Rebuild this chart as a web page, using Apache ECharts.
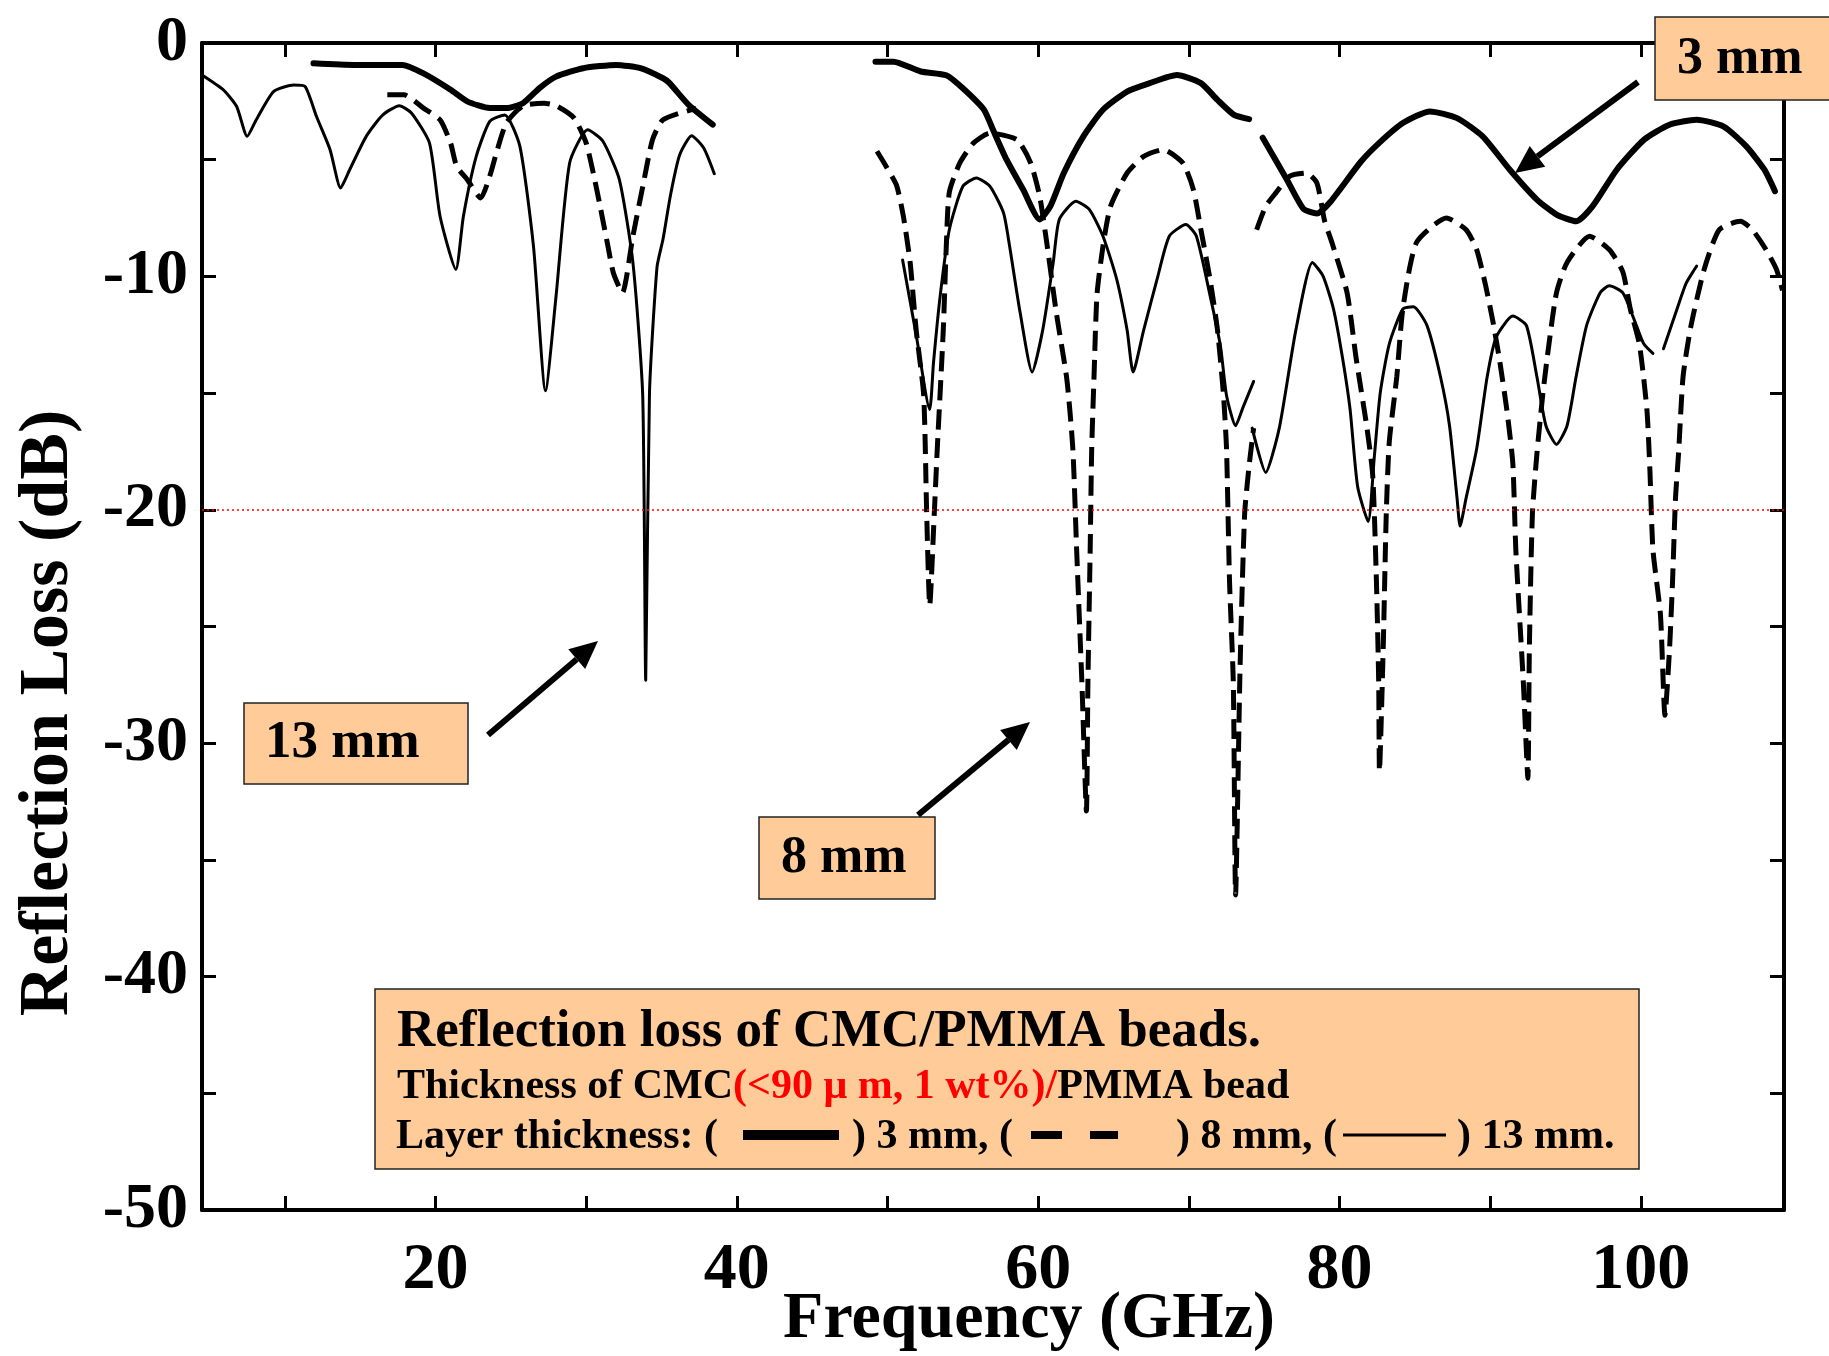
<!DOCTYPE html>
<html>
<head>
<meta charset="utf-8">
<script src="https://cdn.jsdelivr.net/npm/echarts@6/dist/echarts.min.js"></script>
<style>
html,body{margin:0;padding:0;background:#fff;}
#chart{width:1829px;height:1356px;}
</style>
</head>
<body>
<div id="chart"></div>
<script>
// ---------------- DATA ----------------
// Axis ticks / labels
const xTickValues = [10, 20, 30, 40, 50, 60, 70, 80, 90, 100];
const xLabelValues = [20, 40, 60, 80, 100];
const yMin = -50, yMax = 0;

// 3 mm layer (thick solid) - three measured segments
const freq3mmA = [11.9, 14.6, 17.8, 19.2, 21.0, 22.1, 23.6, 24.7, 25.8, 26.9, 28.0, 29.8, 32.0, 33.6, 35.1, 35.5, 36.8, 38.4];
const loss3mmA = [-0.87, -0.94, -0.94, -1.3, -2.0, -2.5, -2.79, -2.79, -2.58, -1.93, -1.44, -1.08, -0.94, -1.08, -1.51, -1.7, -2.65, -3.5];
const freq3mmB = [49.2, 50.4, 52.2, 53.9, 55.0, 56.4, 57.0, 57.9, 59.0, 60.1, 60.8, 61.7, 63.0, 64.3, 65.9, 67.4, 69.2, 70.8, 71.9, 73.0, 74.0];
const loss3mmB = [-0.8, -0.8, -1.22, -1.38, -1.94, -2.86, -3.72, -5.0, -6.28, -7.56, -7.0, -5.57, -4.0, -2.86, -2.08, -1.72, -1.37, -1.72, -2.44, -3.08, -3.26];
const freq3mmC = [74.9, 76.5, 77.6, 78.5, 79.4, 81.4, 82.6, 84.2, 86.0, 87.8, 89.5, 91.3, 93.1, 94.4, 95.7, 96.8, 98.4, 100.2, 101.9, 103.7, 105.5, 107.0, 108.2, 108.9];
const loss3mmC = [-4.06, -5.85, -7.1, -7.3, -6.8, -5.1, -4.3, -3.43, -2.93, -3.22, -4.0, -5.43, -6.71, -7.35, -7.64, -6.99, -5.43, -4.15, -3.5, -3.29, -3.58, -4.43, -5.43, -6.35];

// 8 mm layer (dashed)
const freq8mmA = [16.8, 17.9, 19.2, 20.3, 21.0, 21.4, 22.1, 23.0, 23.6, 24.1, 24.7, 25.8, 27.2, 28.05, 29.2, 30.0, 30.7, 31.4, 31.8, 32.4, 33.1, 33.8, 34.4, 35.1, 37.3];
const loss8mmA = [-2.22, -2.22, -2.79, -3.29, -4.29, -5.28, -5.85, -6.64, -5.7, -4.57, -3.43, -2.7, -2.58, -2.7, -3.22, -4.29, -6.28, -8.56, -9.84, -10.7, -8.28, -6.0, -4.15, -3.29, -2.8];
const freq8mmB = [49.3, 49.9, 50.6, 51.05, 51.5, 51.9, 52.4, 52.6, 52.8, 53.1, 53.3, 53.7, 53.9, 54.1, 54.8, 55.7, 56.8, 58.6, 59.5, 60.1, 60.6, 61.2, 61.9, 62.3, 62.55, 62.9, 63.2, 63.3, 63.45, 63.55, 63.7, 63.9, 64.3, 64.8, 65.9, 67.0, 68.3, 69.6, 70.3, 70.8, 71.4, 71.9, 72.3, 72.5, 72.7, 72.95, 73.1, 73.4, 73.7, 74.0, 74.3];
const loss8mmB = [-4.64, -5.28, -6.1, -7.42, -9.4, -12.3, -15.1, -20.2, -24.1, -20.2, -17.4, -12.3, -8.7, -6.4, -5.14, -4.29, -3.86, -4.15, -5.14, -6.57, -8.7, -11.55, -14.4, -17.4, -21.7, -27.4, -32.9, -27.4, -21.7, -17.4, -14.4, -10.8, -8.7, -7.0, -5.57, -4.86, -4.57, -5.14, -6.28, -8.0, -10.1, -12.3, -15.1, -17.4, -23.1, -27.4, -36.5, -26.7, -20.2, -18.1, -16.5];
const freq8mmC = [74.5, 75.1, 75.8, 76.7, 77.8, 78.5, 79.0, 79.5, 80.5, 81.1, 81.8, 82.2, 82.45, 82.6, 82.65, 82.9, 83.1, 83.3, 83.8, 84.2, 85.1, 87.1, 88.4, 89.1, 89.7, 90.2, 90.6, 91.1, 91.5, 91.7, 92.2, 92.5, 92.6, 92.8, 93.1, 93.5, 93.9, 94.4, 95.1, 96.6, 97.9, 98.8, 99.3, 99.9, 100.4, 100.6, 100.8, 101.3, 101.6, 101.9, 102.1, 102.3, 102.5, 102.8, 103.3, 104.2, 105.2, 106.6, 107.4, 108.3, 109.0, 109.4];
const loss8mmC = [-8.0, -7.0, -6.4, -5.7, -5.57, -6.0, -7.6, -8.56, -10.7, -13.5, -16.4, -18.5, -23.1, -27.4, -31.2, -25.9, -20.2, -17.1, -14.3, -11.4, -8.56, -7.5, -8.0, -8.85, -10.4, -12.0, -13.5, -15.7, -18.0, -21.7, -27.4, -31.5, -25.9, -20.2, -17.6, -15.0, -12.9, -10.7, -9.4, -8.28, -8.85, -9.8, -11.4, -12.9, -15.7, -18.3, -21.7, -24.5, -28.8, -26.0, -23.1, -19.5, -17.6, -14.3, -12.2, -9.7, -8.0, -7.64, -8.0, -8.85, -9.7, -10.6];

// 13 mm layer (thin solid)
const freq13mmA = [4.5, 5.9, 6.8, 7.5, 8.1, 9.25, 10.6, 11.35, 12.1, 13.0, 13.7, 14.3, 15.4, 16.5, 17.6, 18.4, 19.6, 20.3, 21.35, 21.85, 22.7, 23.6, 24.6, 25.6, 26.5, 27.3, 28.0, 28.9, 30.1, 31.1, 32.2, 33.1, 33.75, 33.95, 34.2, 34.7, 35.1, 35.6, 36.2, 37.0, 37.8, 38.5];
const loss13mmA = [-1.37, -2.0, -2.72, -4.0, -3.29, -2.08, -1.8, -1.87, -3.15, -4.57, -6.21, -5.43, -4.0, -3.08, -2.69, -3.0, -4.29, -7.42, -9.7, -7.42, -4.86, -3.36, -3.08, -4.43, -8.7, -14.9, -10.84, -5.14, -3.72, -4.2, -5.85, -9.4, -15.1, -27.3, -15.0, -9.6, -8.4, -6.5, -4.8, -3.97, -4.5, -5.6];
const freq13mmB = [51.0, 51.9, 52.8, 53.05, 53.5, 54.1, 55.0, 55.9, 56.8, 57.7, 58.1, 58.8, 59.6, 60.3, 61.0, 61.4, 62.5, 63.4, 64.3, 65.2, 65.9, 66.3, 67.0, 67.9, 68.7, 69.8, 70.5, 71.4, 72.1, 72.5, 73.1, 73.6, 74.3];
const loss13mmB = [-9.3, -12.5, -15.7, -13.7, -10.8, -8.0, -6.14, -5.78, -6.14, -7.28, -8.7, -11.55, -14.1, -12.3, -9.4, -7.56, -6.78, -7.14, -8.28, -10.1, -12.3, -14.1, -12.3, -10.1, -8.28, -7.78, -8.28, -10.8, -13.0, -15.1, -16.4, -15.6, -14.5];
const freq13mmC = [74.2, 75.1, 76.0, 77.1, 78.2, 78.9, 79.6, 80.2, 80.7, 81.2, 81.9, 82.3, 82.7, 83.3, 84.2, 84.9, 85.8, 86.7, 87.3, 87.8, 88.0, 88.4, 89.1, 89.8, 90.4, 91.5, 92.4, 93.1, 93.7, 94.4, 95.1, 95.7, 96.4, 97.3, 97.9, 98.8, 99.7, 100.2, 100.8];
const loss13mmC = [-16.5, -18.4, -16.5, -12.3, -9.4, -9.98, -11.4, -13.5, -15.7, -19.0, -20.5, -17.8, -15.0, -12.9, -11.4, -11.3, -12.1, -14.3, -16.4, -19.5, -20.7, -19.5, -17.4, -14.3, -12.6, -11.7, -12.1, -14.3, -16.4, -17.2, -16.4, -14.3, -12.1, -10.7, -10.4, -10.7, -12.1, -12.9, -13.3];
const freq13mmD = [101.5, 102.4, 103.0, 103.7];
const loss13mmD = [-13.1, -11.4, -10.3, -9.56];

const thresholdLoss = -20;

// ---------------- CHART ----------------
const SERIF = "'Liberation Serif','Times New Roman',serif";
const zip = (xs, ys) => xs.map((x, i) => [x, ys[i]]);

function lineSeries(name, xs, ys, style, extra) {
  return Object.assign({
    name: name, type: 'line', data: zip(xs, ys),
    showSymbol: false, symbol: 'none', smooth: 0.2,
    lineStyle: style, silent: true, z: 3
  }, extra || {});
}
const st3 = { color: '#000', width: 6, cap: 'round', join: 'round' };
const st8 = { color: '#000', width: 5, type: [20, 9], cap: 'butt', join: 'round' };
const st13 = { color: '#000', width: 3, cap: 'round', join: 'round' };

const series = [
  lineSeries('3 mm', freq3mmA, loss3mmA, st3, {
    markLine: {
      silent: true, symbol: ['none', 'none'], label: { show: false },
      lineStyle: { color: '#ff0000', type: [2, 3], width: 1.5 },
      data: [{ yAxis: thresholdLoss }]
    }
  }),
  lineSeries('3 mm', freq3mmB, loss3mmB, st3),
  lineSeries('3 mm', freq3mmC, loss3mmC, st3),
  lineSeries('8 mm', freq8mmA, loss8mmA, st8),
  lineSeries('8 mm', freq8mmB, loss8mmB, st8),
  lineSeries('8 mm', freq8mmC, loss8mmC, st8),
  lineSeries('13 mm', freq13mmA, loss13mmA, st13),
  lineSeries('13 mm', freq13mmB, loss13mmB, st13),
  lineSeries('13 mm', freq13mmC, loss13mmC, st13),
  lineSeries('13 mm', freq13mmD, loss13mmD, st13)
];

// annotation helpers (pixel positions of boxes/arrows)
function arrow(x1, y1, x2, y2) {
  const a = Math.atan2(y2 - y1, x2 - x1);
  const L = 28, H = 13;
  const bx = x2 - L * Math.cos(a), by = y2 - L * Math.sin(a);
  const px = -Math.sin(a), py = Math.cos(a);
  return [
    { type: 'line', shape: { x1: x1, y1: y1, x2: bx, y2: by }, style: { stroke: '#000', lineWidth: 6 }, z: 10 },
    { type: 'polygon', shape: { points: [[x2, y2], [bx + H * px, by + H * py], [bx - H * px, by - H * py]] }, style: { fill: '#000' }, z: 10 }
  ];
}
function box(x, y, w, h) {
  return { type: 'rect', shape: { x: x, y: y, width: w, height: h }, style: { fill: '#FFCC99', stroke: '#222', lineWidth: 1.5 }, z: 9 };
}
function txt(x, y, text, size, extra, align) {
  return Object.assign({
    type: 'text', z: 11,
    style: {
      x: x, y: y, text: text, fill: '#000',
      font: 'bold ' + size + 'px ' + SERIF,
      align: align || 'left', verticalAlign: 'middle', textAlign: align || 'left', textVerticalAlign: 'middle'
    }
  }, extra || {});
}

const legendFont = 42;
const graphics = [
  // axis titles
  txt(1029, 1320, 'Frequency (GHz)', 66, null, 'center'),
  { type: 'text', z: 11, x: 49, y: 713, rotation: Math.PI / 2,
    style: { x: 0, y: 0, text: 'Reflection Loss (dB)', fill: '#000', font: 'bold 70px ' + SERIF,
      align: 'center', verticalAlign: 'middle', textAlign: 'center', textVerticalAlign: 'middle' } },
  // label boxes and arrows
  box(1655, 17, 190, 83), txt(1677, 60, '3 mm', 52),
  box(244, 703, 224, 81), txt(265, 743, '13 mm', 53),
  box(759, 817, 176, 82), txt(781, 859, '8 mm', 52),
  ...arrow(1638, 82, 1515, 173),
  ...arrow(488, 735, 598, 641),
  ...arrow(918, 815, 1030, 722),
  // description box
  box(375, 989, 1264, 180),
  txt(397, 1032, 'Reflection loss of CMC/PMMA beads.', 53),
  {
    type: 'text', z: 11,
    style: {
      x: 397, y: 1087, text: '{b|Thickness of CMC}{r|(<90 \u03bc m, 1 wt%)/}{b|PMMA bead}',
      align: 'left', verticalAlign: 'middle', textAlign: 'left', textVerticalAlign: 'middle',
      rich: {
        b: { font: 'bold ' + legendFont + 'px ' + SERIF, fill: '#000', color: '#000' },
        r: { font: 'bold ' + legendFont + 'px ' + SERIF, fill: '#ff0000', color: '#ff0000' }
      }
    }
  },
  txt(396, 1137, 'Layer thickness: (', legendFont),
  { type: 'line', shape: { x1: 743, y1: 1135, x2: 839, y2: 1135 }, style: { stroke: '#000', lineWidth: 10 }, z: 11 },
  txt(852, 1137, ') 3 mm, (', legendFont),
  { type: 'line', shape: { x1: 1031, y1: 1135, x2: 1062, y2: 1135 }, style: { stroke: '#000', lineWidth: 8 }, z: 11 },
  { type: 'line', shape: { x1: 1090, y1: 1135, x2: 1118, y2: 1135 }, style: { stroke: '#000', lineWidth: 8 }, z: 11 },
  txt(1176, 1137, ') 8 mm, (', legendFont),
  { type: 'line', shape: { x1: 1343, y1: 1135, x2: 1446, y2: 1135 }, style: { stroke: '#000', lineWidth: 3 }, z: 11 },
  txt(1457, 1137, ') 13 mm.', legendFont)
];

const axisLineStyle = { color: '#000', width: 4 };
const tickStyle = { color: '#000', width: 3 };

const option = {
  animation: false,
  backgroundColor: '#fff',
  grid: { left: 202, right: 45, top: 43, bottom: 146, containLabel: false },
  xAxis: [
    {
      type: 'value', min: 4.5, max: 109.5, position: 'bottom',
      axisLine: { show: true, onZero: false, lineStyle: axisLineStyle },
      axisTick: { show: true, inside: true, length: 14, customValues: xTickValues, lineStyle: tickStyle },
      axisLabel: { show: true, customValues: xLabelValues, fontFamily: SERIF, fontWeight: 'bold', fontSize: 66, color: '#000', margin: 28 },
      splitLine: { show: false }
    },
    {
      type: 'value', min: 4.5, max: 109.5, position: 'top',
      axisLine: { show: true, onZero: false, lineStyle: axisLineStyle },
      axisTick: { show: true, inside: true, length: 14, customValues: xTickValues, lineStyle: tickStyle },
      axisLabel: { show: false },
      splitLine: { show: false }
    }
  ],
  yAxis: [
    {
      type: 'value', min: yMin, max: yMax, interval: 5, position: 'left',
      axisLine: { show: true, onZero: false, lineStyle: axisLineStyle },
      axisTick: { show: true, inside: true, length: 14, lineStyle: tickStyle },
      axisLabel: {
        fontFamily: SERIF, fontWeight: 'bold', fontSize: 64, color: '#000', margin: 14,
        formatter: v => (v % 10 === 0 ? String(v) : '')
      },
      splitLine: { show: false }
    },
    {
      type: 'value', min: yMin, max: yMax, interval: 5, position: 'right',
      axisLine: { show: true, onZero: false, lineStyle: axisLineStyle },
      axisTick: { show: true, inside: true, length: 14, lineStyle: tickStyle },
      axisLabel: { show: false },
      splitLine: { show: false }
    }
  ],
  series: series,
  graphic: graphics
};

const chart = echarts.init(document.getElementById('chart'), null, { renderer: 'canvas' });
chart.setOption(option);
</script>
</body>
</html>
